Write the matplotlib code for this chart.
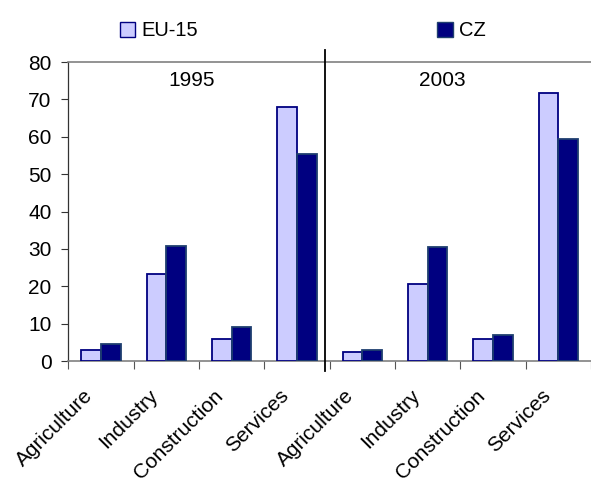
import matplotlib.pyplot as plt
import numpy as np
from matplotlib.patches import Patch
from matplotlib.transforms import ScaledTranslation

plt.rcParams['font.family'] = ['Liberation Sans', 'DejaVu Sans']

categories = ['Agriculture', 'Industry', 'Construction', 'Services',
              'Agriculture', 'Industry', 'Construction', 'Services']
eu15 = [2.9, 23.4, 5.8, 67.9, 2.3, 20.7, 5.8, 71.8]
cz = [4.5, 30.8, 9.2, 55.3, 3.0, 30.4, 7.0, 59.4]
years = ['1995', '2003']

fig = plt.figure(figsize=(5.91, 4.84), dpi=100)
left = 68.3 / 591
ax = fig.add_axes([left, 0.2541, 1.0 - left, 0.8719 - 0.2541])

x = np.arange(len(categories))
w = 0.3
ax.bar(x - w / 2, eu15, w, color='#CCCCFF', edgecolor='#000080', linewidth=1.3, zorder=3)
ax.bar(x + w / 2, cz, w, color='#000080', edgecolor='#1F3F6F', linewidth=1.3, zorder=3)

ax.set_xlim(-0.5, 7.30)
ax.set_ylim(0, 80)
ax.set_yticks(range(0, 81, 10))
ax.tick_params(axis='y', labelsize=15, length=5, width=0.8, color='#333333', pad=7)

ax.set_xticks(x)
ax.set_xticklabels(categories, rotation=45, ha='right', va='center',
                   rotation_mode='anchor', fontsize=15)
ax.tick_params(axis='x', which='major', length=0, pad=23)
shift = ScaledTranslation(-11 / 100, 0, fig.dpi_scale_trans)
for lbl in ax.get_xticklabels():
    lbl.set_transform(lbl.get_transform() + shift)
ax.set_xticks(np.arange(-0.5, 7.6, 1), minor=True)
ax.tick_params(axis='x', which='minor', length=6, width=0.8, color='#555555')

ax.spines['right'].set_visible(False)
ax.spines['top'].set_color('#808080')
ax.spines['top'].set_linewidth(1.2)
ax.spines['bottom'].set_color('#808080')
ax.spines['bottom'].set_linewidth(1.2)
ax.spines['left'].set_color('#333333')
ax.spines['left'].set_linewidth(0.9)

# divider between the two years
ax.plot([3.43, 3.43], [-2.7, 83.2], color='black', linewidth=1.3, clip_on=False, zorder=5)

ax.text(1.38, 75, years[0], ha='center', va='center', fontsize=15)
ax.text(5.22, 75, years[1], ha='center', va='center', fontsize=15)

handles = [Patch(facecolor='#CCCCFF', edgecolor='#000080', label='EU-15'),
           Patch(facecolor='#000080', edgecolor='#1F3F6F', label='CZ')]
fig.legend(handles=handles, loc='center left', bbox_to_anchor=(120 / 591, 1 - 31 / 484),
           ncol=2, frameon=False, fontsize=14.5, handlelength=0.75, handleheight=0.75,
           handletextpad=0.3, columnspacing=11.9, borderpad=0, borderaxespad=0)

fig.savefig('out.png', dpi=100)
